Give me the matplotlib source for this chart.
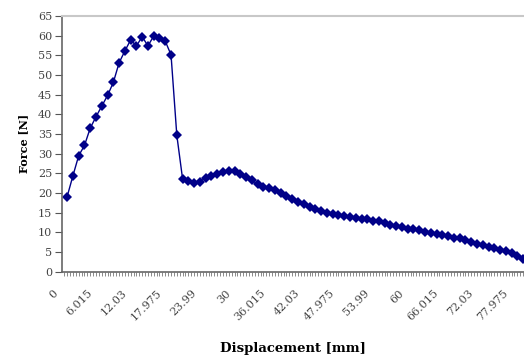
import numpy as np
import matplotlib
matplotlib.use('Agg')
import matplotlib.pyplot as plt

# Force readings (N), one per displacement step (category axis)
force = [19.1, 24.4, 29.5, 32.1, 36.5, 39.4, 42.1, 44.8, 48.1, 53.1,
         56.1, 58.9, 57.4, 59.7, 57.4, 59.9, 59.3, 58.6, 55.1, 34.7,
         23.6, 23.0, 22.5, 22.9, 23.9, 24.4, 24.8, 25.3, 25.7, 25.5,
         24.9, 24.2, 23.4, 22.2, 21.6, 21.3, 20.7, 20.0, 19.2, 18.5,
         17.7, 17.2, 16.6, 16.0, 15.5, 15.0, 14.8, 14.4, 14.1, 13.9,
         13.7, 13.5, 13.3, 13.0, 12.8, 12.5, 12.0, 11.6, 11.3, 11.0,
         10.8, 10.6, 10.2, 9.9, 9.6, 9.3, 9.0, 8.7, 8.5, 8.1,
         7.6, 7.2, 6.8, 6.4, 6.0, 5.6, 5.2, 4.7, 4.1, 3.3]

# Category labels shown every 6th point
label_idx = [0, 6, 12, 18, 24, 30, 36, 42, 48, 54, 60, 66, 72, 78]
label_txt = ['0', '6.015', '12.03', '17.975', '23.99', '30', '36.015', '42.03',
             '47.975', '53.99', '60', '66.015', '72.03', '77.975']

plt.rcParams['font.family'] = ['DejaVu Serif']

fig = plt.figure(figsize=(5.24, 3.62), dpi=100)
ax = fig.add_axes([0.118, 0.249, 0.882, 0.707])

x = np.arange(len(force))
ax.plot(x, force, color='#000088', linewidth=1, marker='D', markersize=5.5,
        markeredgewidth=0)

ax.set_yticks(np.arange(0, 66, 5))
ax.set_xticks([])
ax.set_xticks(np.arange(-0.5, 79.5, 0.5), minor=True)
ax.set_xlim(-0.92, 79.15)
ax.set_ylim(0, 65)

# slanted category labels, Excel puts them a bit left of the category
for i, t in zip(label_idx, label_txt):
    ax.annotate(t, (i, 0), xytext=(-10.5, -11.5), textcoords='offset points',
                rotation=45, ha='right', va='top', rotation_mode='anchor',
                fontsize=8, color='#444444', annotation_clip=False)

ax.tick_params(axis='y', labelsize=8, length=5, width=0.8, color='#555555',
               labelcolor='#444444', pad=2)
ax.tick_params(axis='x', which='minor', length=3, width=0.6, color='#777777')

ax.spines['right'].set_visible(False)
ax.spines['top'].set_color('#c8c8c8')
ax.spines['top'].set_linewidth(1.5)
ax.spines['left'].set_color('#666666')
ax.spines['bottom'].set_color('#666666')
ax.spines['left'].set_linewidth(1.2)
ax.spines['bottom'].set_linewidth(1.2)

ax.set_ylabel('Force [N]', fontsize=8, fontweight='bold', labelpad=6)
ax.set_xlabel('Displacement [mm]', fontsize=9.5, fontweight='bold')
ax.xaxis.set_label_coords(0.5, -0.275)

fig.savefig('out.png', dpi=100)
